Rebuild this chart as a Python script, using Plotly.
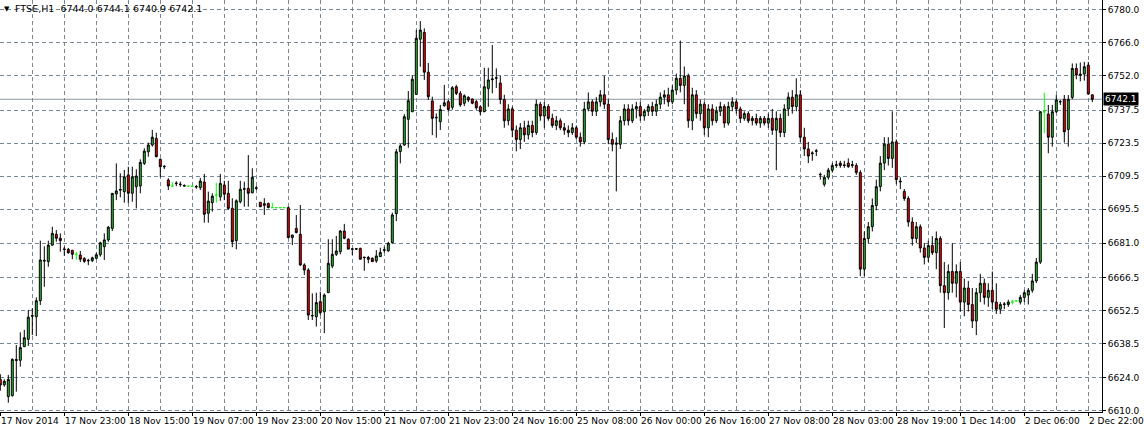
import plotly.graph_objects as go

# ---------------- data (FTSE, H1) ----------------
open_ = [
    6623.2, 6620.9, 6615.9, 6616.3, 6631.2, 6631.3, 6637.1, 6640.2, 6650.0, 6649.8,
    6656.6, 6673.4, 6673.2, 6680.2, 6684.8, 6683.1, 6678.3, 6678.4, 6678.0, 6676.3,
    6676.0, 6674.6, 6673.5, 6673.6, 6674.6, 6676.1, 6679.5, 6682.4, 6687.3, 6701.9,
    6703.5, 6702.9, 6710.0, 6702.2, 6705.0, 6705.3, 6714.9, 6719.8, 6722.7, 6725.5,
    6716.6, 6713.4, 6707.8, 6705.3, 6706.3, 6706.1, 6705.5, 6705.2, 6705.2, 6705.1,
    6704.6, 6707.0, 6693.7, 6698.2, 6701.5, 6700.7, 6705.7, 6702.2, 6695.8, 6682.1,
    6698.6, 6703.9, 6704.3, 6702.4, 6704.3, 6698.4, 6697.8, 6697.9, 6696.1, 6696.1,
    6696.1, 6696.1, 6696.1, 6683.4, 6687.3, 6684.8, 6671.8, 6669.6, 6650.1, 6649.8,
    6656.2, 6651.9, 6660.0, 6671.3, 6676.3, 6677.4, 6686.2, 6682.7, 6678.4, 6678.7,
    6678.8, 6675.1, 6675.0, 6674.6, 6673.5, 6675.3, 6678.0, 6677.8, 6681.2, 6693.5,
    6719.9, 6722.7, 6733.6, 6736.8, 6744.2, 6767.6, 6770.5, 6753.6, 6741.4, 6734.2,
    6732.6, 6739.4, 6741.1, 6738.7, 6747.4, 6744.6, 6740.4, 6742.9, 6742.2, 6741.1,
    6738.9, 6736.8, 6746.7, 6750.4, 6751.0, 6749.0, 6742.0, 6733.0, 6738.0, 6729.0,
    6725.0, 6730.0, 6727.0, 6731.0, 6728.0, 6740.0, 6735.0, 6739.0, 6734.0, 6731.0,
    6733.0, 6730.0, 6729.0, 6728.0, 6730.0, 6726.0, 6724.0, 6738.0, 6741.0, 6737.0,
    6741.0, 6744.0, 6740.0, 6725.0, 6723.0, 6723.0, 6733.0, 6738.0, 6733.0, 6738.0,
    6739.0, 6735.0, 6737.0, 6739.0, 6737.0, 6740.0, 6743.0, 6744.0, 6741.0, 6746.0,
    6751.0, 6748.0, 6752.0, 6733.0, 6744.0, 6736.0, 6740.0, 6730.0, 6738.0, 6733.0,
    6737.0, 6739.0, 6732.0, 6739.0, 6741.0, 6738.0, 6734.0, 6736.0, 6733.0, 6734.0,
    6732.0, 6734.0, 6732.0, 6734.0, 6729.0, 6734.0, 6728.0, 6738.0, 6743.0, 6739.0,
    6744.0, 6726.0, 6721.0, 6719.0, 6720.0, 6710.0, 6706.0, 6709.0, 6712.0, 6714.0,
    6715.0, 6714.0, 6715.0, 6714.0, 6714.0, 6711.0, 6670.0, 6683.0, 6688.0, 6697.0,
    6705.0, 6715.0, 6723.0, 6717.0, 6724.0, 6707.0, 6703.0, 6700.0, 6690.0, 6683.0,
    6688.0, 6679.0, 6675.0, 6680.0, 6677.0, 6683.0, 6663.0, 6660.0, 6669.0, 6664.0,
    6669.0, 6656.0, 6662.0, 6655.0, 6648.0, 6660.0, 6664.0, 6658.0, 6661.0, 6656.0,
    6653.0, 6655.0, 6655.0, 6656.0, 6656.5, 6656.0, 6658.0, 6659.0, 6661.0, 6665.0,
    6673.0, 6736.8, 6735.8, 6726.0, 6736.8, 6741.0, 6742.1, 6729.3, 6742.9, 6755.2,
    6752.8, 6752.8, 6756.6, 6744.0,
]
high = [
    6625.4, 6623.2, 6625.1, 6632.1, 6637.8, 6643.2, 6644.2, 6652.7, 6653.4, 6658.0,
    6682.1, 6679.7, 6682.1, 6688.0, 6686.6, 6685.2, 6679.6, 6679.0, 6678.0, 6677.3,
    6677.7, 6675.0, 6674.4, 6675.3, 6677.0, 6681.6, 6685.2, 6688.3, 6702.4, 6714.9,
    6710.7, 6712.1, 6713.5, 6713.5, 6712.4, 6716.6, 6721.3, 6723.7, 6729.1, 6727.9,
    6717.0, 6714.2, 6708.6, 6707.0, 6707.3, 6707.1, 6706.0, 6705.2, 6705.2, 6705.7,
    6708.7, 6710.4, 6702.9, 6702.2, 6706.7, 6710.4, 6707.5, 6707.5, 6700.1, 6699.6,
    6707.5, 6707.1, 6718.4, 6712.8, 6705.3, 6698.4, 6700.1, 6698.2, 6698.2, 6696.1,
    6696.1, 6696.1, 6696.5, 6684.5, 6693.0, 6697.2, 6672.5, 6670.4, 6659.7, 6660.0,
    6660.4, 6659.7, 6682.7, 6682.7, 6684.1, 6686.6, 6689.2, 6683.1, 6678.8, 6678.9,
    6679.1, 6675.2, 6675.6, 6675.0, 6678.1, 6679.1, 6679.5, 6681.6, 6694.0, 6721.0,
    6723.1, 6735.8, 6745.6, 6752.4, 6771.5, 6775.3, 6772.2, 6757.5, 6743.2, 6736.1,
    6739.7, 6748.2, 6741.8, 6747.7, 6748.2, 6745.6, 6744.2, 6743.4, 6742.5, 6741.8,
    6739.4, 6755.5, 6755.5, 6765.1, 6755.2, 6752.0, 6744.0, 6740.0, 6739.0, 6731.0,
    6732.0, 6733.0, 6733.0, 6733.0, 6742.0, 6741.0, 6741.0, 6740.0, 6736.0, 6735.0,
    6734.0, 6732.0, 6731.0, 6732.0, 6731.0, 6728.0, 6741.0, 6745.0, 6742.0, 6743.0,
    6746.0, 6752.0, 6742.0, 6728.0, 6726.0, 6735.0, 6740.0, 6740.0, 6740.0, 6741.0,
    6741.0, 6738.0, 6740.0, 6741.0, 6742.0, 6745.0, 6746.0, 6747.0, 6748.0, 6753.0,
    6767.0, 6756.0, 6753.0, 6747.0, 6746.0, 6742.0, 6741.0, 6740.0, 6740.0, 6739.0,
    6741.0, 6740.0, 6741.0, 6743.0, 6742.0, 6739.0, 6737.0, 6737.0, 6735.0, 6736.0,
    6735.0, 6735.0, 6736.0, 6738.0, 6737.0, 6736.0, 6740.0, 6745.0, 6746.0, 6751.0,
    6746.0, 6730.0, 6724.0, 6720.0, 6721.0, 6711.0, 6710.0, 6713.0, 6715.0, 6716.0,
    6716.0, 6716.0, 6717.0, 6716.0, 6715.0, 6712.0, 6686.0, 6690.0, 6700.0, 6708.0,
    6718.0, 6726.0, 6726.0, 6737.0, 6725.0, 6709.0, 6704.0, 6701.0, 6692.0, 6690.0,
    6689.0, 6681.0, 6682.0, 6684.0, 6686.0, 6684.0, 6673.0, 6672.0, 6681.0, 6672.0,
    6673.0, 6666.0, 6665.0, 6662.0, 6662.0, 6668.0, 6666.0, 6664.0, 6669.0, 6664.0,
    6656.0, 6656.0, 6657.0, 6657.0, 6656.5, 6659.0, 6661.0, 6662.0, 6668.0, 6674.7,
    6737.1, 6744.9, 6739.7, 6739.7, 6743.9, 6741.8, 6743.9, 6743.9, 6757.3, 6757.3,
    6757.7, 6758.0, 6758.0, 6744.1,
]
low = [
    6618.4, 6620.1, 6613.3, 6615.9, 6618.0, 6628.6, 6637.0, 6637.4, 6642.0, 6641.6,
    6654.8, 6662.5, 6671.0, 6679.8, 6681.6, 6677.4, 6675.7, 6676.5, 6674.2, 6673.9,
    6673.0, 6672.7, 6671.7, 6673.0, 6674.2, 6675.3, 6673.9, 6681.6, 6686.2, 6699.3,
    6700.5, 6698.2, 6698.0, 6698.6, 6695.8, 6702.2, 6714.2, 6717.7, 6722.0, 6717.5,
    6709.0, 6712.5, 6703.6, 6705.3, 6705.2, 6705.0, 6705.1, 6705.2, 6705.2, 6704.1,
    6703.6, 6689.7, 6689.7, 6694.4, 6698.2, 6699.0, 6699.3, 6695.1, 6679.3, 6678.4,
    6697.9, 6696.5, 6696.5, 6702.2, 6703.6, 6696.3, 6693.0, 6695.8, 6696.1, 6696.1,
    6696.1, 6696.1, 6683.1, 6680.2, 6685.2, 6671.3, 6667.5, 6648.4, 6648.4, 6645.6,
    6650.5, 6642.8, 6660.0, 6670.4, 6675.6, 6676.3, 6682.7, 6678.5, 6676.0, 6678.2,
    6674.2, 6669.3, 6672.5, 6673.0, 6672.7, 6675.2, 6677.0, 6677.3, 6680.9, 6690.4,
    6714.9, 6722.3, 6721.5, 6736.7, 6743.9, 6755.9, 6750.3, 6741.8, 6726.9, 6725.8,
    6729.1, 6738.9, 6736.8, 6737.6, 6743.9, 6738.9, 6739.2, 6740.9, 6740.0, 6737.6,
    6735.4, 6736.7, 6738.9, 6744.6, 6746.9, 6740.0, 6730.0, 6731.0, 6726.0, 6720.0,
    6721.0, 6724.0, 6725.0, 6726.0, 6727.0, 6733.0, 6730.0, 6733.0, 6730.0, 6729.0,
    6729.0, 6727.0, 6726.0, 6727.0, 6725.0, 6722.0, 6723.0, 6737.0, 6735.0, 6735.0,
    6739.0, 6738.0, 6723.0, 6720.0, 6703.0, 6721.0, 6731.0, 6731.0, 6732.0, 6734.0,
    6733.0, 6733.0, 6735.0, 6735.0, 6735.0, 6738.0, 6740.0, 6739.0, 6740.0, 6744.0,
    6745.0, 6740.0, 6730.0, 6729.0, 6734.0, 6733.0, 6727.0, 6726.0, 6731.0, 6732.0,
    6735.0, 6730.0, 6731.0, 6737.0, 6736.0, 6732.0, 6733.0, 6732.0, 6731.0, 6731.0,
    6730.0, 6731.0, 6730.0, 6727.0, 6712.0, 6726.0, 6726.0, 6735.0, 6736.0, 6737.0,
    6724.0, 6718.0, 6715.0, 6716.0, 6718.0, 6708.0, 6705.0, 6708.0, 6711.0, 6713.0,
    6713.0, 6713.0, 6713.0, 6713.0, 6710.0, 6667.0, 6667.0, 6681.0, 6686.0, 6695.0,
    6703.0, 6712.0, 6714.0, 6713.0, 6706.0, 6704.0, 6699.0, 6688.0, 6680.0, 6681.0,
    6677.0, 6672.0, 6673.0, 6676.0, 6670.0, 6660.0, 6645.0, 6657.0, 6660.0, 6658.0,
    6652.0, 6650.0, 6652.0, 6645.0, 6642.0, 6656.0, 6655.0, 6654.0, 6653.0, 6651.0,
    6651.0, 6653.0, 6654.0, 6655.0, 6656.5, 6655.0, 6656.0, 6655.0, 6660.0, 6664.1,
    6672.2, 6727.7, 6719.2, 6722.0, 6736.3, 6739.7, 6723.7, 6722.0, 6742.1, 6750.6,
    6749.7, 6750.0, 6744.3, 6740.9,
]
close = [
    6620.8, 6622.4, 6623.2, 6631.7, 6631.6, 6636.7, 6640.9, 6649.6, 6650.3, 6656.6,
    6673.9, 6673.7, 6680.2, 6685.2, 6683.1, 6682.1, 6678.5, 6677.0, 6676.3, 6676.3,
    6674.2, 6673.3, 6673.7, 6674.8, 6676.1, 6681.2, 6682.4, 6687.8, 6702.1, 6703.2,
    6703.8, 6709.2, 6702.2, 6709.2, 6709.5, 6715.3, 6720.1, 6722.7, 6726.0, 6717.7,
    6713.5, 6713.6, 6705.3, 6705.3, 6706.5, 6705.9, 6705.3, 6705.2, 6705.2, 6704.9,
    6707.4, 6693.3, 6698.9, 6701.0, 6701.5, 6706.4, 6701.8, 6695.8, 6681.6, 6699.0,
    6703.9, 6704.1, 6702.2, 6709.0, 6704.5, 6696.5, 6697.1, 6696.2, 6696.1, 6696.1,
    6696.1, 6696.1, 6683.4, 6684.5, 6685.5, 6671.8, 6669.6, 6650.5, 6650.3, 6655.8,
    6651.5, 6659.0, 6672.5, 6676.3, 6677.7, 6686.2, 6683.1, 6678.5, 6678.6, 6678.5,
    6674.2, 6674.9, 6674.2, 6673.2, 6675.6, 6677.1, 6678.2, 6681.0, 6693.0, 6719.8,
    6722.3, 6734.7, 6741.5, 6750.6, 6768.0, 6771.5, 6753.6, 6743.2, 6734.0, 6734.4,
    6737.8, 6740.6, 6737.8, 6747.0, 6744.6, 6739.7, 6743.6, 6741.8, 6740.4, 6738.5,
    6736.8, 6747.4, 6750.3, 6750.7, 6751.2, 6742.0, 6733.0, 6738.0, 6729.0, 6725.0,
    6730.0, 6727.0, 6731.0, 6728.0, 6740.0, 6735.0, 6739.0, 6734.0, 6731.0, 6733.0,
    6730.0, 6729.0, 6728.0, 6730.0, 6726.0, 6724.0, 6738.0, 6741.0, 6737.0, 6741.0,
    6744.0, 6740.0, 6725.0, 6723.0, 6723.5, 6733.0, 6738.0, 6733.0, 6738.0, 6739.0,
    6735.0, 6737.0, 6739.0, 6737.0, 6740.0, 6743.0, 6744.0, 6741.0, 6746.0, 6751.0,
    6748.0, 6752.0, 6733.0, 6744.0, 6736.0, 6740.0, 6730.0, 6738.0, 6733.0, 6737.0,
    6739.0, 6732.0, 6739.0, 6741.0, 6738.0, 6734.0, 6736.0, 6733.0, 6734.0, 6732.0,
    6734.0, 6732.0, 6734.0, 6729.0, 6734.0, 6728.0, 6738.0, 6743.0, 6739.0, 6744.0,
    6726.0, 6721.0, 6718.0, 6719.3, 6720.2, 6710.2, 6709.0, 6712.0, 6714.0, 6714.3,
    6714.0, 6714.2, 6713.5, 6714.3, 6711.0, 6670.0, 6683.0, 6688.0, 6697.0, 6705.0,
    6715.0, 6723.0, 6717.0, 6724.0, 6708.0, 6707.3, 6700.0, 6690.0, 6683.0, 6688.0,
    6679.0, 6675.0, 6680.0, 6677.0, 6683.0, 6663.0, 6660.0, 6669.0, 6664.0, 6669.0,
    6656.0, 6662.0, 6655.0, 6648.0, 6660.0, 6664.0, 6658.0, 6661.0, 6656.0, 6653.0,
    6655.0, 6655.2, 6656.0, 6656.0, 6656.5, 6658.0, 6660.0, 6661.0, 6665.0, 6673.0,
    6736.8, 6736.8, 6726.0, 6736.8, 6741.8, 6741.1, 6728.3, 6742.1, 6755.2, 6752.4,
    6752.4, 6755.9, 6744.3, 6742.1,
]

tick_bars = [0, 16, 32, 48, 64, 80, 96, 112, 128, 144, 160, 176, 192, 208, 224, 240, 256, 272]
tick_text = ["17 Nov 2014", "17 Nov 23:00", "18 Nov 15:00", "19 Nov 07:00", "19 Nov 23:00",
             "20 Nov 15:00", "21 Nov 07:00", "21 Nov 23:00", "24 Nov 16:00", "25 Nov 08:00",
             "26 Nov 00:00", "26 Nov 16:00", "27 Nov 08:00", "28 Nov 03:00", "28 Nov 19:00",
             "1 Dec 14:00", "2 Dec 06:00", "2 Dec 22:00"]
price_ticks = [6610.0, 6624.0, 6638.5, 6652.5, 6666.5, 6681.0, 6695.5, 6709.5,
               6723.5, 6737.5, 6752.0, 6766.0, 6780.0]
symbol = "FTSE,H1"
last_price = close[-1]

# ---------------- figure ----------------
n = len(close)
xs = list(range(n))
is_flat = [o == c for o, c in zip(open_, close)]


def pick(vals, keep):
    return [v if k else None for v, k in zip(vals, keep)]


body_mask = [not f for f in is_flat]
GRID = "#778899"
FONT = "DejaVu Sans"

fig = go.Figure()
fig.add_trace(go.Candlestick(
    x=xs, open=pick(open_, body_mask), high=pick(high, body_mask),
    low=pick(low, body_mask), close=pick(close, body_mask),
    increasing=dict(line=dict(color="black", width=1), fillcolor="#2fc12f"),
    decreasing=dict(line=dict(color="black", width=1), fillcolor="#ff0000"),
    whiskerwidth=0, hoverinfo="skip", showlegend=False,
))
fig.add_trace(go.Candlestick(
    x=xs, open=pick(open_, is_flat), high=pick(high, is_flat),
    low=pick(low, is_flat), close=pick(close, is_flat),
    increasing=dict(line=dict(color="#00ff00", width=1), fillcolor="#00ff00"),
    decreasing=dict(line=dict(color="#00ff00", width=1), fillcolor="#00ff00"),
    whiskerwidth=0, hoverinfo="skip", showlegend=False,
))

# current price line
fig.add_hline(y=last_price, line=dict(color="#8a96a3", width=1), layer="below")

px_per_bar = 4.0
plot_w = 1102
x0 = -0.3 / px_per_bar
fig.update_layout(
    width=1144, height=432,
    margin=dict(l=0, r=42, t=0, b=20),
    paper_bgcolor="white", plot_bgcolor="white",
    boxgap=0.3,
    showlegend=False,
    font=dict(family=FONT, size=9, color="black"),
    xaxis=dict(
        range=[x0, x0 + plot_w / px_per_bar],
        rangeslider=dict(visible=False),
        tickmode="array", tickvals=tick_bars, ticktext=[""] * len(tick_bars),
        showticklabels=False, ticks="outside", ticklen=3, tickcolor="black",
        showgrid=True, gridcolor=GRID, griddash="4px,3px", gridwidth=1,
        minor=dict(tickmode="linear", tick0=0, dtick=8, showgrid=True,
                   gridcolor=GRID, griddash="4px,3px", gridwidth=1, ticks=""),
        showline=True, linecolor="black", linewidth=1, zeroline=False,
        fixedrange=True,
    ),
    yaxis=dict(
        side="right",
        range=[6609.36, 6784.24],
        tickmode="array", tickvals=price_ticks,
        ticktext=[f"{v:.1f}" for v in price_ticks],
        ticks="outside", ticklen=3, tickcolor="black",
        showgrid=True, gridcolor=GRID, griddash="4px,3px", gridwidth=1,
        showline=True, linecolor="black", linewidth=1, zeroline=False,
        tickfont=dict(family=FONT, size=9, color="black"),
        fixedrange=True,
    ),
)

annotations = []
for b, t in zip(tick_bars, tick_text):
    annotations.append(dict(
        x=b, y=0, xref="x", yref="paper", text=t, showarrow=False,
        xanchor="left", yanchor="top", xshift=-1, yshift=-2,
        font=dict(family=FONT, size=9, color="black"),
    ))
# title
annotations.append(dict(
    x=0, y=1, xref="paper", yref="paper", showarrow=False,
    text="\u25bc", xanchor="left", yanchor="top", xshift=2, yshift=-3,
    font=dict(family=FONT, size=7, color="black"),
))
annotations.append(dict(
    x=0, y=1, xref="paper", yref="paper", showarrow=False,
    text=f"{symbol}  {open_[-1]:.1f} {high[-1]:.1f} {low[-1]:.1f} {close[-1]:.1f}",
    xanchor="left", yanchor="top", xshift=13, yshift=-1,
    font=dict(family=FONT, size=9.5, color="black"),
))
# last price label
annotations.append(dict(
    x=1, y=last_price, xref="paper", yref="y", showarrow=False,
    text=f"{last_price:.1f}", xanchor="left", yanchor="middle", xshift=1,
    bgcolor="black", borderpad=1,
    font=dict(family=FONT, size=9, color="white"),
))
fig.update_layout(annotations=annotations)

fig.write_html(
    "out.html",
    config={"displayModeBar": False},
    post_script="document.body.style.margin='0';document.body.style.overflow='hidden';",
)
